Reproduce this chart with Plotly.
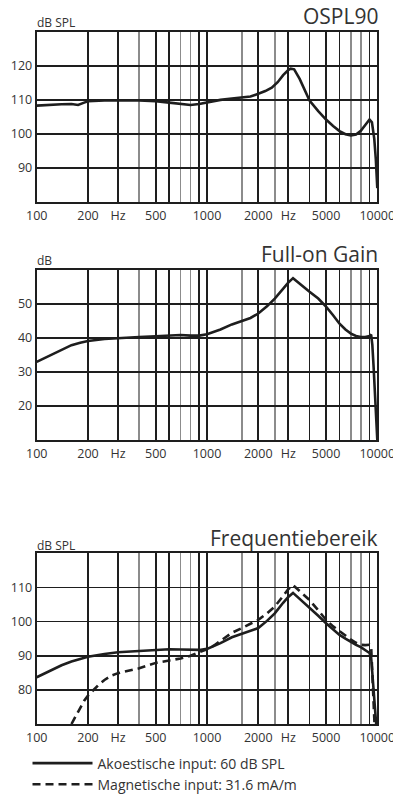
import plotly.graph_objects as go

# ---------------- data ----------------
# Chart 1: OSPL90 (dB SPL)
ospl_freq = [100, 120, 140, 160, 175, 190, 200, 250, 300, 400, 500, 600, 700, 800, 900,
             1000, 1200, 1400, 1600, 1800, 2000, 2200, 2400, 2600, 2800, 3000, 3100, 3250,
             3500, 3800, 4000, 4500, 5000, 5500, 6000, 6500, 7000, 7500, 8000, 8500, 9000,
             9300, 9600, 9800, 10000]
ospl_db = [108.3, 108.4, 108.7, 108.8, 108.5, 109.2, 109.6, 109.8, 109.9, 109.8, 109.6, 109.2,
           108.8, 108.5, 108.8, 109.3, 110.0, 110.4, 110.6, 111.0, 111.8, 112.6, 113.6, 115.2,
           117.3, 118.8, 119.2, 119.0, 116.2, 112.3, 109.8, 106.7, 104.2, 102.3, 100.8, 99.9,
           99.5, 99.8, 100.9, 102.6, 104.2, 103.4, 98.5, 92.5, 84.0]

# Chart 2: Full-on Gain (dB)
gain_freq = [100, 110, 120, 140, 160, 180, 200, 250, 300, 400, 500, 600, 700, 800, 900, 1000,
             1200, 1400, 1600, 1800, 2000, 2250, 2500, 2800, 3000, 3200, 3500, 4000, 4500, 5000,
             5500, 6000, 6500, 7000, 7500, 8000, 8500, 9000, 9200, 9350, 9500, 9700, 10000]
gain_db = [33.0, 34.0, 34.9, 36.6, 37.9, 38.6, 39.1, 39.7, 40.0, 40.3, 40.5, 40.8, 40.9, 40.7,
           40.7, 41.1, 42.5, 44.0, 45.0, 45.9, 47.2, 49.3, 51.6, 54.6, 56.3, 57.6, 55.9, 53.6,
           51.6, 49.2, 46.7, 44.2, 42.5, 41.3, 40.6, 40.3, 40.3, 40.6, 41.0, 38.0, 32.0, 24.0, 10.0]

# Chart 3: Frequentiebereik (dB SPL)
acou_freq = [100, 110, 120, 140, 160, 180, 200, 250, 300, 400, 500, 600, 700, 800, 900, 1000,
             1200, 1400, 1600, 1800, 2000, 2250, 2500, 2800, 3000, 3200, 3500, 4000, 4500, 5000,
             5500, 6000, 6500, 7000, 7500, 8000, 8500, 9000, 9200, 9400, 9600, 9850]
acou_db = [83.7, 84.7, 85.6, 87.2, 88.3, 89.1, 89.7, 90.5, 91.0, 91.4, 91.7, 91.9, 91.8, 91.7,
           91.7, 92.0, 93.7, 95.4, 96.4, 97.2, 98.1, 100.2, 102.4, 105.5, 107.2, 108.4, 106.7,
           104.1, 101.7, 99.5, 97.7, 96.1, 95.0, 94.0, 93.2, 92.5, 91.7, 90.8, 89.5, 84.0, 77.0,
           70.0]

magn_freq = [160, 170, 180, 190, 200, 215, 230, 250, 275, 300, 350, 400, 500, 600, 700, 800,
             900, 1000, 1100, 1200, 1400, 1600, 1800, 2000, 2250, 2500, 2800, 3000, 3200, 3500,
             4000, 4500, 5000, 5500, 6000, 6500, 7000, 7500, 8000, 8500, 9000, 9200, 9350, 9500,
             9650]
magn_db = [70.0, 72.5, 74.8, 76.8, 78.3, 80.0, 81.4, 82.9, 84.2, 84.9, 85.6, 86.3, 87.9, 88.5,
           89.2, 90.0, 91.0, 91.9, 93.0, 94.4, 96.7, 98.1, 99.3, 100.5, 102.4, 104.4, 107.5,
           109.5, 110.7, 109.0, 106.3, 103.3, 100.5, 98.6, 97.1, 95.8, 94.7, 93.8, 93.2, 93.1,
           93.2, 92.8, 86.0, 78.0, 69.0]

# Axis ticks
x_major_vals = [100, 200, 300, 500, 600, 900, 1000, 2000, 3000, 4000, 5000, 6000, 9000, 10000]
x_major_text = ["100", "200", "Hz", "500", "", "", "1000", "2000", "Hz", "", "5000", "", "", "10000"]
x_minor_vals = [400, 700, 800, 1600, 2500, 7000, 8000]

y1_ticks = [90, 100, 110, 120]
y2_ticks = [20, 30, 40, 50]
y3_ticks = [80, 90, 100, 110]

titles = ["OSPL90", "Full-on Gain", "Frequentiebereik"]
units = ["dB SPL", "dB", "dB SPL"]
legend_names = ["Akoestische input: 60 dB SPL", "Magnetische input: 31.6 mA/m"]

# ---------------- figure ----------------
W, H = 393, 794
FONT = "Open Sans, sans-serif"
TXT = "#333333"
INK = "#1e1e1e"

x_dom = [36.7 / W, 377.3 / W]
# pixel top/bottom of the three plot areas
panels = [(32, 201.7), (270, 440), (553.3, 724)]
y_ranges = [[80, 130], [10, 60], [70, 120]]
y_ticks = [y1_ticks, y2_ticks, y3_ticks]

fig = go.Figure()

line_w = 2.6
fig.add_trace(go.Scatter(x=ospl_freq, y=ospl_db, mode="lines", xaxis="x", yaxis="y",
                         line=dict(color=INK, width=line_w), showlegend=False))
fig.add_trace(go.Scatter(x=gain_freq, y=gain_db, mode="lines", xaxis="x2", yaxis="y2",
                         line=dict(color=INK, width=line_w), showlegend=False))
fig.add_trace(go.Scatter(x=acou_freq, y=acou_db, mode="lines", xaxis="x3", yaxis="y3",
                         name=legend_names[0], line=dict(color=INK, width=line_w)))
fig.add_trace(go.Scatter(x=magn_freq, y=magn_db, mode="lines", xaxis="x3", yaxis="y3",
                         name=legend_names[1], line=dict(color=INK, width=line_w, dash="8px,5px")))

layout = dict(
    width=W, height=H,
    margin=dict(l=0, r=0, t=0, b=0, autoexpand=False),
    paper_bgcolor="white", plot_bgcolor="white",
    font=dict(family=FONT, color=TXT, size=12),
    showlegend=True,
    legend=dict(x=0.07, y=1 - 747.5 / H, xanchor="left", yanchor="top",
                font=dict(family=FONT, size=14, color=TXT),
                bgcolor="rgba(0,0,0,0)", itemwidth=60, tracegroupgap=0),
)

annotations = []
for i, ((top, bot), yr, yt) in enumerate(zip(panels, y_ranges, y_ticks)):
    sfx = "" if i == 0 else str(i + 1)
    dom = [1 - bot / H, 1 - top / H]
    layout["xaxis" + sfx] = dict(
        type="log", range=[2, 4], domain=x_dom, anchor="y" + sfx,
        tickmode="array", tickvals=x_major_vals, ticktext=x_major_text,
        ticks="", showgrid=True, gridcolor=INK, gridwidth=1.6,
        minor=dict(tickmode="array", tickvals=x_minor_vals, showgrid=True,
                   gridcolor="#8c8c8c", gridwidth=1.6, ticks=""),
        showline=True, linecolor=INK, linewidth=2, mirror=True, zeroline=False,
        tickfont=dict(size=12.5, color=TXT), ticklabeloverflow="allow",
        ticklabelstandoff=1, fixedrange=True, automargin=False,
    )
    layout["yaxis" + sfx] = dict(
        range=yr, domain=dom, anchor="x" + sfx,
        tickmode="array", tickvals=yt, ticks="",
        showgrid=True, gridcolor=INK, gridwidth=1.6,
        showline=True, linecolor=INK, linewidth=2, mirror=True, zeroline=False,
        tickfont=dict(size=12.5, color=TXT), fixedrange=True, automargin=False,
    )

title_y = [15.5, 254, 538]
unit_y = [22.5, 260, 545.5]
for t, ty in zip(titles, title_y):
    annotations.append(dict(text=t, xref="paper", yref="paper", x=380 / W, y=1 - ty / H,
                            xanchor="right", yanchor="middle", showarrow=False,
                            font=dict(family=FONT, size=21, color=TXT)))
for u, uy in zip(units, unit_y):
    annotations.append(dict(text=u, xref="paper", yref="paper", x=35 / W, y=1 - uy / H,
                            xanchor="left", yanchor="middle", showarrow=False,
                            font=dict(family=FONT, size=12, color=TXT)))
layout["annotations"] = annotations

fig.update_layout(**layout)
fig.write_html("out.html", config={"displayModeBar": False, "staticPlot": True},
               post_script="document.body.style.margin='0';document.body.style.overflow='hidden';")
